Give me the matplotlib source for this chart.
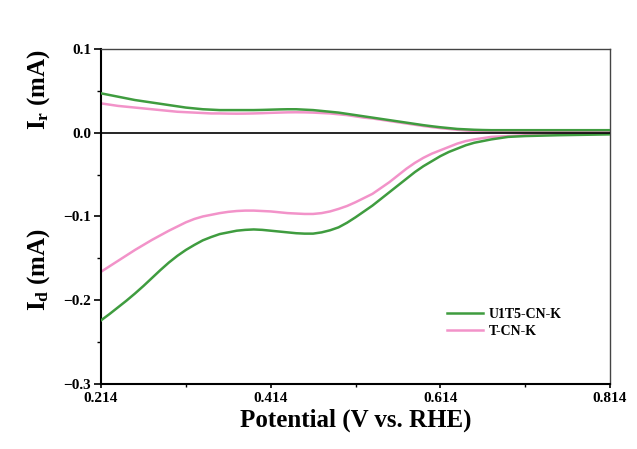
"""
RRDE currents (ring / disk) vs potential for U1T5-CN-K and T-CN-K
"""

import matplotlib
matplotlib.use('Agg')
import matplotlib.pyplot as plt
from matplotlib.ticker import MultipleLocator, FixedLocator

plt.rcParams['font.family'] = 'Liberation Serif'
plt.rcParams['font.weight'] = 'bold'
plt.rcParams['mathtext.fontset'] = 'custom'
plt.rcParams['mathtext.rm'] = 'Liberation Serif:bold'
plt.rcParams['mathtext.it'] = 'Liberation Serif:bold'
plt.rcParams['mathtext.bf'] = 'Liberation Serif:bold'

# potential (V vs. RHE)
potential = [0.214, 0.224, 0.234, 0.244, 0.254, 0.264, 0.274, 0.284, 0.294, 0.304,
             0.314, 0.324, 0.334, 0.344, 0.354, 0.364, 0.374, 0.384, 0.394, 0.404,
             0.414, 0.424, 0.434, 0.444, 0.454, 0.464, 0.474, 0.484, 0.494, 0.504,
             0.514, 0.524, 0.534, 0.544, 0.554, 0.564, 0.574, 0.584, 0.594, 0.604,
             0.614, 0.624, 0.634, 0.644, 0.654, 0.664, 0.674, 0.684, 0.694, 0.704,
             0.714, 0.754, 0.814]

# disk currents (mA)
disk_u1t5 = [-0.224, -0.2165, -0.2085, -0.2005, -0.192, -0.183, -0.1735, -0.164, -0.155, -0.147,
             -0.140, -0.134, -0.1285, -0.1245, -0.121, -0.119, -0.117, -0.116, -0.1155, -0.116,
             -0.117, -0.118, -0.119, -0.120, -0.1205, -0.1205, -0.119, -0.1165, -0.113, -0.1075,
             -0.101, -0.094, -0.087, -0.079, -0.071, -0.063, -0.055, -0.047, -0.040, -0.034,
             -0.028, -0.023, -0.019, -0.015, -0.012, -0.010, -0.008, -0.0065, -0.005, -0.0045,
             -0.004, -0.003, -0.002]
disk_tcnk = [-0.166, -0.1595, -0.153, -0.1465, -0.140, -0.134, -0.128, -0.1225, -0.117, -0.112,
             -0.107, -0.103, -0.100, -0.098, -0.096, -0.0945, -0.0935, -0.093, -0.093, -0.0935,
             -0.094, -0.095, -0.096, -0.0965, -0.097, -0.097, -0.096, -0.094, -0.091, -0.0875,
             -0.083, -0.078, -0.073, -0.066, -0.059, -0.051, -0.043, -0.036, -0.030, -0.025,
             -0.021, -0.017, -0.013, -0.010, -0.008, -0.0065, -0.005, -0.0045, -0.004, -0.0035,
             -0.003, -0.002, -0.001]

# ring currents (mA)
ring_u1t5 = [0.047, 0.045, 0.043, 0.041, 0.039, 0.0375, 0.036, 0.0345, 0.033, 0.0315,
             0.030, 0.029, 0.028, 0.0275, 0.027, 0.027, 0.027, 0.027, 0.027, 0.0272,
             0.0275, 0.0278, 0.028, 0.028, 0.0275, 0.027, 0.026, 0.025, 0.024, 0.0225,
             0.021, 0.0195, 0.018, 0.0165, 0.015, 0.0135, 0.012, 0.0105, 0.009, 0.0077,
             0.0065, 0.0055, 0.0045, 0.004, 0.0035, 0.0032, 0.003, 0.003, 0.003, 0.003,
             0.003, 0.003, 0.003]
ring_tcnk = [0.035, 0.0335, 0.032, 0.031, 0.030, 0.029, 0.028, 0.027, 0.026, 0.025,
             0.0245, 0.024, 0.0235, 0.023, 0.023, 0.0228, 0.0227, 0.0228, 0.023, 0.0233,
             0.0237, 0.024, 0.0243, 0.0244, 0.0243, 0.024, 0.0235, 0.023, 0.022, 0.021,
             0.0195, 0.018, 0.017, 0.0155, 0.014, 0.0125, 0.011, 0.0095, 0.008, 0.0067,
             0.0055, 0.0045, 0.0035, 0.0027, 0.002, 0.0017, 0.0015, 0.0013, 0.0012, 0.0011,
             0.001, 0.001, 0.001]

labels = ['U1T5-CN-K', 'T-CN-K']
colors = ['#3f9c3f', '#f293c9']
xticks = [0.214, 0.414, 0.614, 0.814]
xminor = [0.314, 0.514, 0.714]

fig = plt.figure(figsize=(6.37, 4.49), dpi=100)
ax = fig.add_axes([0.1586, 0.1448, 0.7990, 0.7462])

# pink first so green sits on top
ax.plot(potential, ring_tcnk, color=colors[1], lw=1.8, zorder=2)
ax.plot(potential, disk_tcnk, color=colors[1], lw=1.8, zorder=2, label=labels[1])
ax.plot(potential, ring_u1t5, color=colors[0], lw=1.8, zorder=3)
ax.plot(potential, disk_u1t5, color=colors[0], lw=1.8, zorder=3, label=labels[0])
ax.axhline(0, color='black', lw=1.2, zorder=4)

ax.set_xlim(0.214, 0.814)
ax.set_ylim(-0.3, 0.1)
ax.xaxis.set_major_locator(FixedLocator(xticks))
ax.xaxis.set_minor_locator(FixedLocator(xminor))
ax.set_xticklabels(['%.3f' % t for t in xticks])
ax.yaxis.set_major_locator(MultipleLocator(0.1))
ax.yaxis.set_minor_locator(MultipleLocator(0.05))
ax.yaxis.set_major_formatter(plt.FuncFormatter(lambda v, p: ('%.1f' % v).replace('-', '\u2212')))

ax.tick_params(axis='y', which='major', direction='out', length=5, width=1.2, labelsize=11, pad=2)
ax.tick_params(axis='y', which='minor', direction='out', length=3, width=1.0)
ax.tick_params(axis='x', which='major', direction='out', length=3, width=1.2, labelsize=11, pad=3)
ax.tick_params(axis='x', which='minor', direction='out', length=2, width=1.0)

for side in ['left', 'bottom']:
    ax.spines[side].set_linewidth(1.5)
for side in ['top', 'right']:
    ax.spines[side].set_linewidth(1.0)
    ax.spines[side].set_color('#444444')

ax.set_xlabel('Potential (V vs. RHE)', fontsize=18, fontweight='bold', labelpad=2)
fig.text(0.06, 0.80, r'I$_\mathrm{r}$ (mA)', rotation=90, ha='center', va='center',
         fontsize=18, fontweight='bold')
fig.text(0.06, 0.40, r'I$_\mathrm{d}$ (mA)', rotation=90, ha='center', va='center',
         fontsize=18, fontweight='bold')

handles, labs = ax.get_legend_handles_labels()
ax.legend(handles[::-1], labs[::-1], loc='lower right', bbox_to_anchor=(0.93, 0.1),
          frameon=False, handlelength=2.6, handletextpad=0.4,
          labelspacing=0.3, prop={'weight': 'bold', 'size': 10})

fig.savefig('out.png', dpi=100)
